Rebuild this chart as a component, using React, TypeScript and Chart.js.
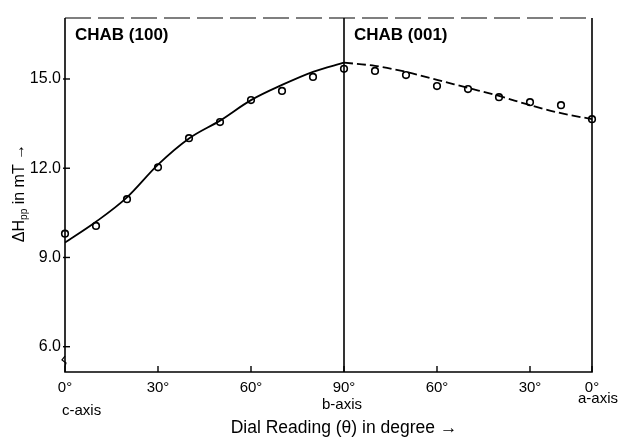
import React, { useEffect, useRef } from "react";
import { Chart, registerables } from "chart.js";

Chart.register(...registerables);

// ---- data ----
// x is the position along the dial axis: 0..90 for CHAB (100), then 90..170 for CHAB (001)
const xTickPositions = [0, 30, 60, 90, 120, 150, 170];
const xTickLabels = ["0°", "30°", "60°", "90°", "60°", "30°", "0°"];
const yTickValues = [6, 9, 12, 15];

const leftPanelX = [0, 10, 20, 30, 40, 50, 60, 70, 80, 90];
const leftPanelValues = [9.8, 10.06, 10.96, 12.03, 13.01, 13.55, 14.29, 14.6, 15.07, 15.34];
const rightPanelX = [100, 110, 120, 130, 140, 150, 160, 170];
const rightPanelValues = [15.27, 15.13, 14.76, 14.66, 14.39, 14.22, 14.12, 13.65];

const leftFitX = [0, 10, 20, 30, 40, 50, 60, 70, 80, 90];
const leftFitValues = [9.5, 10.2, 11.02, 12.12, 13.0, 13.6, 14.29, 14.8, 15.24, 15.55];
const rightFitX = [90, 100, 110, 120, 130, 140, 150, 160, 170];
const rightFitValues = [15.55, 15.44, 15.24, 14.97, 14.7, 14.43, 14.12, 13.85, 13.65];

const panelTitles = ["CHAB (100)", "CHAB (001)"];
const panelTitleX = [0, 90];
const axisNames = ["c-axis", "b-axis", "a-axis"];
const axisNameX = [0, 90, 170];
const dividerX = 90;
const xTitle = "Dial Reading (θ) in degree →";

const FONT = "'Liberation Sans', Arial, Helvetica, sans-serif";

const decorPlugin = {
  id: "decor",
  afterDraw(chart: any) {
    const { ctx, chartArea: a, scales } = chart;
    const xs = scales.x;
    const ys = scales.y;
    ctx.save();
    ctx.strokeStyle = "#000";
    ctx.fillStyle = "#000";

    // frame: left, bottom, right solid; top broken
    ctx.lineWidth = 1.6;
    ctx.beginPath();
    ctx.moveTo(a.left, a.top);
    ctx.lineTo(a.left, a.bottom);
    ctx.lineTo(a.right, a.bottom);
    ctx.lineTo(a.right, a.top);
    ctx.stroke();
    ctx.lineWidth = 1.2;
    ctx.setLineDash([26, 7]);
    ctx.beginPath();
    ctx.moveTo(a.left, a.top);
    ctx.lineTo(a.right, a.top);
    ctx.stroke();
    ctx.setLineDash([]);

    // divider between the two panels
    const dx = xs.getPixelForValue(dividerX);
    ctx.lineWidth = 1.6;
    ctx.beginPath();
    ctx.moveTo(dx, a.top);
    ctx.lineTo(dx, a.bottom);
    ctx.stroke();

    // inward x tick marks
    ctx.lineWidth = 1.4;
    xTickPositions.forEach((v) => {
      const px = xs.getPixelForValue(v);
      ctx.beginPath();
      ctx.moveTo(px, a.bottom);
      ctx.lineTo(px, a.bottom - 6);
      ctx.stroke();
    });
    // y tick marks crossing the axis
    yTickValues.forEach((v) => {
      const py = ys.getPixelForValue(v);
      ctx.beginPath();
      ctx.moveTo(a.left - 2, py);
      ctx.lineTo(a.left + 5, py);
      ctx.stroke();
    });

    // axis break symbol on the y axis
    ctx.lineWidth = 1.2;
    ctx.beginPath();
    ctx.moveTo(a.left, a.bottom - 16);
    ctx.lineTo(a.left - 3, a.bottom - 12);
    ctx.lineTo(a.left + 1, a.bottom - 9);
    ctx.lineTo(a.left, a.bottom - 6);
    ctx.stroke();

    // panel titles
    ctx.font = `bold 17px ${FONT}`;
    ctx.textAlign = "left";
    ctx.textBaseline = "alphabetic";
    panelTitles.forEach((t, i) => {
      ctx.fillText(t, xs.getPixelForValue(panelTitleX[i]) + 10, a.top + 22);
    });

    // crystal axis names under the ticks
    ctx.font = `15px ${FONT}`;
    ctx.textBaseline = "middle";
    axisNames.forEach((t, i) => {
      const px = xs.getPixelForValue(axisNameX[i]);
      if (i === 0) {
        ctx.textAlign = "left";
        ctx.fillText(t, px - 3, a.bottom + 39);
      } else if (i === axisNames.length - 1) {
        ctx.textAlign = "right";
        ctx.fillText(t, px + 26, a.bottom + 27);
      } else {
        ctx.textAlign = "center";
        ctx.fillText(t, px - 2, a.bottom + 33);
      }
    });

    // x title
    ctx.font = `17.5px ${FONT}`;
    ctx.textAlign = "center";
    ctx.fillText(xTitle, 344, 428);

    // y title (rotated) : ΔHpp in mT →
    ctx.translate(20, 193);
    ctx.rotate(-Math.PI / 2);
    ctx.textAlign = "left";
    ctx.textBaseline = "middle";
    const big = `16px ${FONT}`;
    const small = `10px ${FONT}`;
    ctx.font = big;
    const p1 = "ΔH";
    const p3 = " in mT →";
    ctx.font = small;
    const subW = ctx.measureText("pp").width;
    ctx.font = big;
    const w1 = ctx.measureText(p1).width;
    const w3 = ctx.measureText(p3).width;
    let x0 = -(w1 + subW + w3) / 2;
    ctx.fillText(p1, x0, 0);
    x0 += w1;
    ctx.font = small;
    ctx.fillText("pp", x0, 4);
    x0 += subW;
    ctx.font = big;
    ctx.fillText(p3, x0, 0);

    ctx.restore();
  },
};

export default function App() {
  const canvasRef = useRef<HTMLCanvasElement | null>(null);

  useEffect(() => {
    if (!canvasRef.current) return;
    const chart = new Chart(canvasRef.current, {
      type: "scatter",
      data: {
        datasets: [
          {
            label: "CHAB (100) fit",
            type: "line",
            data: leftFitX.map((x, i) => ({ x, y: leftFitValues[i] })),
            borderColor: "#000",
            borderWidth: 1.8,
            pointRadius: 0,
            tension: 0.4,
            cubicInterpolationMode: "monotone",
            fill: false,
          },
          {
            label: "CHAB (001) fit",
            type: "line",
            data: rightFitX.map((x, i) => ({ x, y: rightFitValues[i] })),
            borderColor: "#000",
            borderWidth: 1.8,
            borderDash: [9, 4],
            pointRadius: 0,
            tension: 0.4,
            cubicInterpolationMode: "monotone",
            fill: false,
          },
          {
            label: "CHAB (100)",
            data: leftPanelX.map((x, i) => ({ x, y: leftPanelValues[i] })),
            pointRadius: 3.3,
            pointBackgroundColor: "#fff",
            pointBorderColor: "#000",
            pointBorderWidth: 1.6,
            clip: false,
          },
          {
            label: "CHAB (001)",
            data: rightPanelX.map((x, i) => ({ x, y: rightPanelValues[i] })),
            pointRadius: 3.3,
            pointBackgroundColor: "#fff",
            pointBorderColor: "#000",
            pointBorderWidth: 1.6,
            clip: false,
          },
        ],
      },
      options: {
        animation: false,
        responsive: false,
        layout: { padding: { left: 0, right: 28, top: 18, bottom: 0 } },
        plugins: {
          legend: { display: false },
          tooltip: { enabled: false },
          title: { display: false },
        },
        scales: {
          x: {
            type: "linear",
            min: 0,
            max: 170,
            afterFit: (s: any) => {
              s.height = 67;
            },
            afterBuildTicks: (s: any) => {
              s.ticks = xTickPositions.map((v) => ({ value: v }));
            },
            ticks: {
              autoSkip: false,
              maxRotation: 0,
              padding: 7,
              color: "#000",
              font: { family: FONT, size: 15 },
              callback: (v: any) => {
                const i = xTickPositions.indexOf(Number(v));
                return i >= 0 ? xTickLabels[i] : "";
              },
            },
            grid: { display: false, drawTicks: false },
            border: { display: false },
          },
          y: {
            type: "linear",
            min: 5.15,
            max: 17.05,
            afterFit: (s: any) => {
              s.width = 65;
            },
            afterBuildTicks: (s: any) => {
              s.ticks = yTickValues.map((v) => ({ value: v }));
            },
            ticks: {
              padding: 4,
              color: "#000",
              font: { family: FONT, size: 16 },
              callback: (v: any) => Number(v).toFixed(1),
            },
            grid: { display: false, drawTicks: false },
            border: { display: false },
          },
        },
      },
      plugins: [decorPlugin],
    } as any);
    return () => chart.destroy();
  }, []);

  return (
    <div style={{ position: "absolute", left: 0, top: 0, width: 620, height: 439, background: "#fff" }}>
      <canvas ref={canvasRef} width={620} height={439} />
    </div>
  );
}
